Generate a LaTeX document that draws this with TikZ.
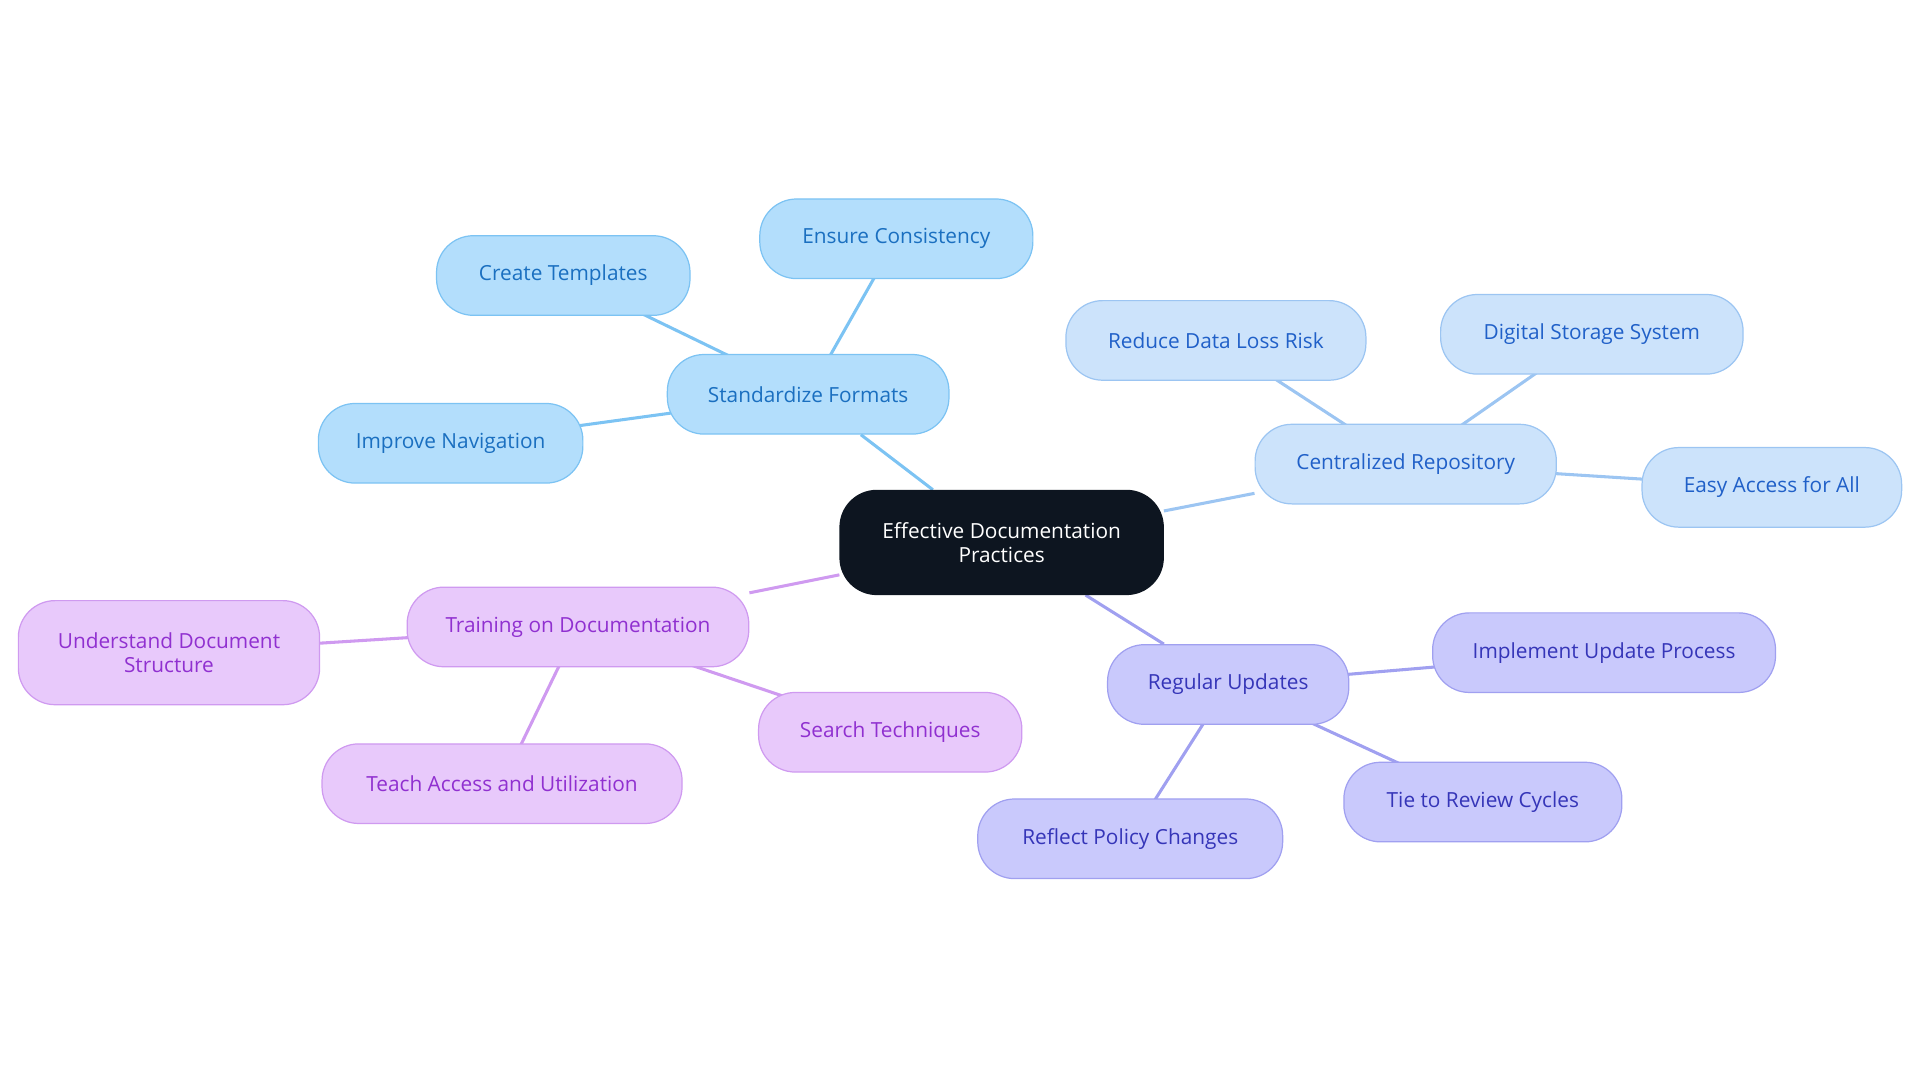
\documentclass[tikz,border=0pt]{standalone}
\usepackage{fontspec}
\setmainfont{Open Sans}
\usepackage{xcolor}
\usetikzlibrary{backgrounds}

\definecolor{rootfill}{HTML}{0D1520}
\definecolor{sfFill}{HTML}{B3DEFC}\definecolor{sfDraw}{HTML}{7CC3F3}\definecolor{sfText}{HTML}{1A6FC0}
\definecolor{crFill}{HTML}{CCE3FB}\definecolor{crDraw}{HTML}{9CC5F2}\definecolor{crText}{HTML}{2060C8}
\definecolor{ruFill}{HTML}{C9C9FC}\definecolor{ruDraw}{HTML}{A0A0F0}\definecolor{ruText}{HTML}{3535B8}
\definecolor{tdFill}{HTML}{E8C9FB}\definecolor{tdDraw}{HTML}{CF9AF0}\definecolor{tdText}{HTML}{9030D0}

\tikzset{
  box/.style={rectangle,rounded corners=30pt,draw,line width=1pt,minimum height=65pt,
    align=center,font=\fontsize{17}{20}\selectfont,inner sep=0pt},
  sf/.style={box,fill=sfFill,draw=sfDraw,text=sfText},
  cr/.style={box,fill=crFill,draw=crDraw,text=crText},
  ru/.style={box,fill=ruFill,draw=ruDraw,text=ruText},
  td/.style={box,fill=tdFill,draw=tdDraw,text=tdText},
  link/.style={line width=2.5pt}
}

\begin{document}
\begin{tikzpicture}[x=1pt,y=-1pt]
            \useasboundingbox (0,0) rectangle (1568,884);

            \node[box,fill=rootfill,draw=rootfill,text=white,minimum width=264pt,minimum height=85pt] (root) at (818,443) {Effective Documentation\\Practices};

            \node[sf,minimum width=230pt] (std) at (660,322) {Standardize Formats};
            \node[sf,minimum width=207pt] (tmpl) at (460,225) {Create Templates};
            \node[sf,minimum width=223pt] (cons) at (732,195) {Ensure Consistency};
            \node[sf,minimum width=216pt] (nav) at (368,362) {Improve Navigation};

            \node[cr,minimum width=246pt] (repo) at (1148,379) {Centralized Repository};
            \node[cr,minimum width=245pt] (loss) at (993,278) {Reduce Data Loss Risk};
            \node[cr,minimum width=247pt] (store) at (1300,273) {Digital Storage System};
            \node[cr,minimum width=212pt] (access) at (1447,398) {Easy Access for All};

            \node[ru,minimum width=197pt] (upd) at (1003,559) {Regular Updates};
            \node[ru,minimum width=280pt] (proc) at (1310,533) {Implement Update Process};
            \node[ru,minimum width=227pt] (cycle) at (1211,655) {Tie to Review Cycles};
            \node[ru,minimum width=249pt] (policy) at (923,685) {Reflect Policy Changes};

            \node[td,minimum width=279pt] (train) at (472,512) {Training on Documentation};
            \node[td,minimum width=246pt,minimum height=85pt] (struct) at (138,533) {Understand Document\\Structure};
            \node[td,minimum width=294pt] (teach) at (410,640) {Teach Access and Utilization};
            \node[td,minimum width=215pt] (search) at (727,598) {Search Techniques};

            % connectors behind the boxes
            \begin{scope}[on background layer]
            \draw[link,sfDraw] (root) -- (std);
            \foreach \n in {tmpl,cons,nav} \draw[link,sfDraw] (std.center) -- (\n.center);
            \draw[link,crDraw] (root) -- (repo);
            \foreach \n in {loss,store,access} \draw[link,crDraw] (repo.center) -- (\n.center);
            \draw[link,ruDraw] (root) -- (upd);
            \foreach \n in {proc,cycle,policy} \draw[link,ruDraw] (upd.center) -- (\n.center);
            \draw[link,tdDraw] (root) -- (train);
            \foreach \n in {struct,teach,search} \draw[link,tdDraw] (train.center) -- (\n.center);
            \end{scope}
\end{tikzpicture}
\end{document}
